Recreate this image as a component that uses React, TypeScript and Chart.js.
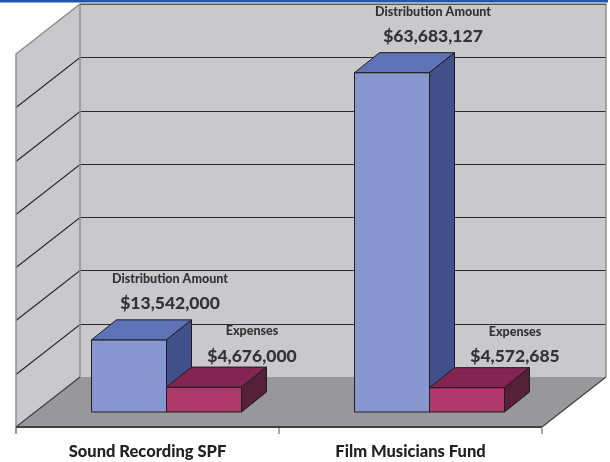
import React, { useEffect, useRef } from "react";
import { Chart, registerables } from "chart.js";

Chart.register(...registerables);

const categories = ["Sound Recording SPF", "Film Musicians Fund"];
const seriesNames = ["Distribution Amount", "Expenses"];
const distribution = [13542000, 63683127];
const expenses = [4676000, 4572685];
const yTicks = [0, 10000000, 20000000, 30000000, 40000000, 50000000, 60000000, 70000000];

const frontColors = ["#8897CF", "#B0396C"];
const topColors = ["#5E72B8", "#842452"];
const sideColors = ["#425089", "#55203A"];

// 3D geometry offsets relative to the bars' front plane
const FRONT = { dx: -19, dy: 15 };
const BACK = { dx: 45, dy: -35 };
const DEPTH = { dx: 25, dy: -20 };

const FONT = "Lato, 'Open Sans', sans-serif";

function fmt(v: number) {
  return "$" + v.toLocaleString("en-US");
}

const threeD = {
  id: "threeD",
  beforeDraw(chart: any) {
    const ctx = chart.ctx as CanvasRenderingContext2D;
    const { left, right } = chart.chartArea;
    const ys = chart.scales.y;
    const y0 = ys.getPixelForValue(yTicks[0]);
    const yTop = ys.getPixelForValue(yTicks[yTicks.length - 1]);
    const bx0 = left + BACK.dx, bx1 = right + BACK.dx;
    const by0 = y0 + BACK.dy, byT = yTop + BACK.dy;
    const fx0 = left + FRONT.dx, fx1 = right + FRONT.dx, fy = y0 + FRONT.dy;
    const drop = fy - by0;
    ctx.save();
    ctx.fillStyle = "#ffffff";
    ctx.fillRect(0, 0, chart.width, chart.height);
    // blue frame line at top
    ctx.fillStyle = "#1D5BA8";
    ctx.fillRect(0, 0, 608, 2.5);
    // back wall
    ctx.fillStyle = "#C9C9CB";
    ctx.fillRect(bx0, byT, bx1 - bx0, by0 - byT);
    // left wall
    ctx.beginPath();
    ctx.moveTo(bx0, byT);
    ctx.lineTo(bx0, by0);
    ctx.lineTo(fx0, fy);
    ctx.lineTo(fx0, byT + drop);
    ctx.closePath();
    ctx.fill();
    // floor
    ctx.fillStyle = "#98989B";
    ctx.beginPath();
    ctx.moveTo(fx0, fy);
    ctx.lineTo(bx0, by0);
    ctx.lineTo(bx1, by0);
    ctx.lineTo(fx1, fy);
    ctx.closePath();
    ctx.fill();
    // gridlines
    ctx.strokeStyle = "#2a2a2a";
    ctx.lineWidth = 1.2;
    for (let i = 1; i < yTicks.length - 1; i++) {
      const yy = Math.round(ys.getPixelForValue(yTicks[i]) + BACK.dy) + 0.5;
      ctx.beginPath();
      ctx.moveTo(bx1, yy);
      ctx.lineTo(bx0, yy);
      ctx.lineTo(fx0, yy + drop);
      ctx.stroke();
    }
    // wall edges
    ctx.strokeStyle = "#8e8e90";
    ctx.lineWidth = 1.5;
    ctx.beginPath();
    ctx.moveTo(fx0, fy + 6);
    ctx.lineTo(fx0, byT + drop);
    ctx.lineTo(bx0, byT);
    ctx.lineTo(bx1, byT);
    ctx.lineTo(bx1, by0);
    ctx.moveTo(bx0, byT);
    ctx.lineTo(bx0, by0);
    ctx.stroke();
    ctx.strokeStyle = "#555";
    ctx.lineWidth = 1.2;
    ctx.beginPath();
    ctx.moveTo(bx0, byT + 0.5);
    ctx.lineTo(bx1, byT + 0.5);
    ctx.stroke();
    // floor edges
    ctx.strokeStyle = "#404040";
    ctx.lineWidth = 1.2;
    ctx.beginPath();
    ctx.moveTo(fx0, fy);
    ctx.lineTo(bx0, by0);
    ctx.moveTo(bx1, by0);
    ctx.lineTo(fx1, fy);
    ctx.stroke();
    ctx.lineWidth = 2;
    ctx.beginPath();
    ctx.moveTo(fx0, fy);
    ctx.lineTo(fx1, fy);
    ctx.stroke();
    // category ticks
    ctx.strokeStyle = "#8a8a8a";
    ctx.lineWidth = 1.5;
    const band = (right - left) / categories.length;
    for (let i = 0; i <= categories.length; i++) {
      const tx = fx0 + band * i;
      ctx.beginPath();
      ctx.moveTo(tx, fy + 1);
      ctx.lineTo(tx, fy + 7);
      ctx.stroke();
    }
    ctx.restore();
  },
  afterDatasetsDraw(chart: any) {
    const ctx = chart.ctx as CanvasRenderingContext2D;
    const xs = chart.scales.x;
    const y0 = chart.scales.y.getPixelForValue(0);
    ctx.save();
    ctx.strokeStyle = "#1e1e1e";
    ctx.lineWidth = 1;
    ctx.lineJoin = "round";
    for (let i = 0; i < categories.length; i++) {
      for (let d = 0; d < seriesNames.length; d++) {
        const el = chart.getDatasetMeta(d).data[i];
        const p = el.getProps(["x", "y", "base", "width"], true);
        const l = p.x - p.width / 2, r = p.x + p.width / 2, t = p.y, b = p.base;
        ctx.fillStyle = frontColors[d];
        ctx.beginPath();
        ctx.rect(l, t, r - l, b - t);
        ctx.fill();
        ctx.stroke();
        ctx.fillStyle = topColors[d];
        ctx.beginPath();
        ctx.moveTo(l, t);
        ctx.lineTo(l + DEPTH.dx, t + DEPTH.dy);
        ctx.lineTo(r + DEPTH.dx, t + DEPTH.dy);
        ctx.lineTo(r, t);
        ctx.closePath();
        ctx.fill();
        ctx.stroke();
        ctx.fillStyle = sideColors[d];
        ctx.beginPath();
        ctx.moveTo(r, t);
        ctx.lineTo(r + DEPTH.dx, t + DEPTH.dy);
        ctx.lineTo(r + DEPTH.dx, b + DEPTH.dy);
        ctx.lineTo(r, b);
        ctx.closePath();
        ctx.fill();
        ctx.stroke();
      }
    }
    // data labels
    ctx.textAlign = "center";
    ctx.textBaseline = "middle";
    ctx.fillStyle = "#333333";
    const offs = [
      { dx: 41, name: -61, val: -36 },
      { dx: 48, name: -56, val: -31 },
    ];
    for (let i = 0; i < categories.length; i++) {
      for (let d = 0; d < seriesNames.length; d++) {
        const el = chart.getDatasetMeta(d).data[i];
        const p = el.getProps(["x", "y"], true);
        const v = chart.data.datasets[d].data[i] as number;
        ctx.font = "900 12.5px " + FONT;
        ctx.fillText(seriesNames[d], p.x + offs[d].dx, p.y + offs[d].name);
        ctx.font = "900 17.5px " + FONT;
        ctx.fillText(fmt(v), p.x + offs[d].dx, p.y + offs[d].val);
      }
    }
    // category labels at the front edge
    ctx.fillStyle = "#222222";
    ctx.font = "900 16.5px " + FONT;
    for (let i = 0; i < categories.length; i++) {
      const cx = xs.getPixelForValue(i) + FRONT.dx;
      ctx.fillText(categories[i], cx, y0 + FRONT.dy + 25);
    }
    ctx.restore();
  },
};

export default function App() {
  const ref = useRef<HTMLCanvasElement | null>(null);
  useEffect(() => {
    if (!ref.current) return;
    const chart = new Chart(ref.current, {
      type: "bar",
      data: {
        labels: categories,
        datasets: [
          {
            label: seriesNames[0],
            data: distribution,
            backgroundColor: frontColors[0],
            borderColor: "#1e1e1e",
            borderWidth: 1,
          },
          {
            label: seriesNames[1],
            data: expenses,
            backgroundColor: frontColors[1],
            borderColor: "#1e1e1e",
            borderWidth: 1,
          },
        ],
      },
      options: {
        responsive: false,
        animation: false,
        devicePixelRatio: 1,
        layout: { padding: { left: 35, right: 49, top: 39, bottom: 50 } },
        datasets: { bar: { categoryPercentage: 150 / 263, barPercentage: 1 } },
        scales: {
          x: { display: false },
          y: { display: false, min: yTicks[0], max: yTicks[yTicks.length - 1] },
        },
        plugins: { legend: { display: false }, tooltip: { enabled: false }, title: { display: false } },
      },
      plugins: [threeD],
    });
    return () => chart.destroy();
  }, []);
  return (
    <div style={{ position: "absolute", left: 0, top: 0, width: 610, height: 462 }}>
      <canvas ref={ref} width={610} height={462} style={{ display: "block" }} />
    </div>
  );
}
